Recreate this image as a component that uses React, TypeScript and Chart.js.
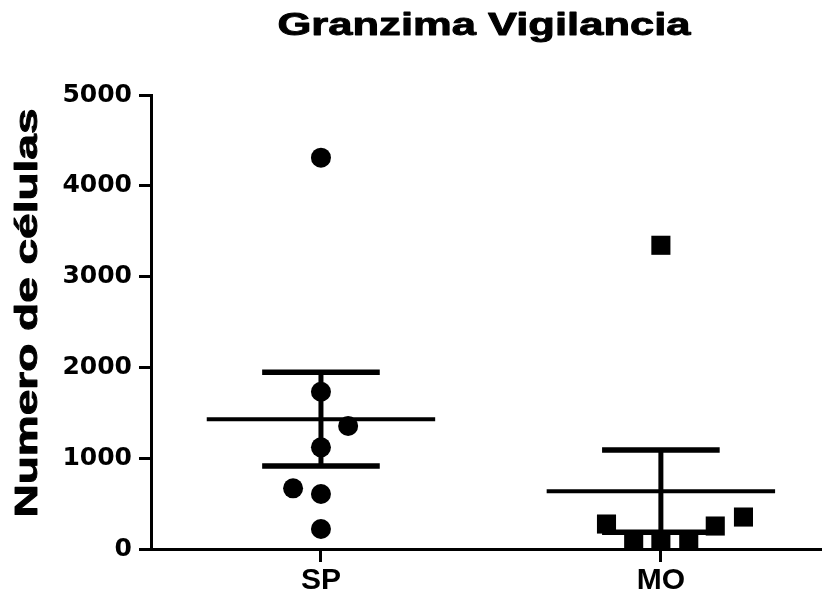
import React, { useEffect, useRef } from 'react';
import { Chart, registerables } from 'chart.js';

Chart.register(...registerables);

// Labels
const chartTitle = 'Granzima Vigilancia';
const yAxisTitle = 'Numero de células';
const groups = ['SP', 'MO'];

// Cell counts per group, with horizontal spread of the dots (in category units)
const spValues = [4310, 1732, 1355, 1120, 668, 606, 220];
const spJitter = [0, 0, 0.08, 0, -0.082, 0, 0];
const moValues = [3345, 275, 80, 75, 80, 253, 352];
const moJitter = [0, -0.16, -0.08, 0, 0.082, 0.16, 0.243];

// Y axis range
const yMin = 0;
const yMax = 5000;
const yStep = 1000;

const groupValues = [spValues, moValues];

function mean(a: number[]) {
  return a.reduce((s, v) => s + v, 0) / a.length;
}
function sem(a: number[]) {
  const m = mean(a);
  const sd = Math.sqrt(a.reduce((s, v) => s + (v - m) * (v - m), 0) / (a.length - 1));
  return sd / Math.sqrt(a.length);
}

const INK = '#000000';
const BOLD_SANS = '"Liberation Sans", Arial, Helvetica, sans-serif';

// Mean line with SEM whiskers for each group
const meanSemPlugin = {
  id: 'meanSem',
  afterDatasetsDraw(chart: any) {
    const { ctx, scales } = chart;
    const x = scales.x;
    const y = scales.y;
    const meanHalf = 0.336;
    const capHalf = 0.173;
    ctx.save();
    ctx.strokeStyle = INK;
    ctx.lineCap = 'butt';
    groupValues.forEach((vals, gi) => {
      const c = gi + 1;
      const m = mean(vals);
      const s = sem(vals);
      const cx = x.getPixelForValue(c);
      const yM = y.getPixelForValue(m);
      const yHi = y.getPixelForValue(m + s);
      const yLo = y.getPixelForValue(m - s);
      // vertical whisker
      ctx.lineWidth = 5;
      ctx.beginPath();
      ctx.moveTo(cx, yHi);
      ctx.lineTo(cx, yLo);
      ctx.stroke();
      // caps
      ctx.lineWidth = 5.5;
      ctx.beginPath();
      ctx.moveTo(x.getPixelForValue(c - capHalf), yHi);
      ctx.lineTo(x.getPixelForValue(c + capHalf), yHi);
      ctx.moveTo(x.getPixelForValue(c - capHalf), yLo);
      ctx.lineTo(x.getPixelForValue(c + capHalf), yLo);
      ctx.stroke();
      // mean
      ctx.lineWidth = 4;
      ctx.beginPath();
      ctx.moveTo(x.getPixelForValue(c - meanHalf), yM);
      ctx.lineTo(x.getPixelForValue(c + meanHalf), yM);
      ctx.stroke();
    });
    ctx.restore();
  },
};

// Draws text widened to a given length, with a thin outline for extra weight
function drawWideText(ctx: any, text: string, font: string, length: number) {
  ctx.font = font;
  const w = ctx.measureText(text).width;
  ctx.scale(length / w, 1);
  ctx.lineWidth = 0.9;
  ctx.lineJoin = 'round';
  ctx.strokeText(text, 0, 0);
  ctx.fillText(text, 0, 0);
}

// Chart title and rotated axis title
const titlesPlugin = {
  id: 'wideTitles',
  afterDraw(chart: any) {
    const { ctx, chartArea } = chart;
    ctx.save();
    ctx.fillStyle = INK;
    ctx.strokeStyle = INK;
    ctx.textAlign = 'center';
    ctx.textBaseline = 'alphabetic';

    ctx.save();
    ctx.translate(484, 35);
    drawWideText(ctx, chartTitle, `bold 31px ${BOLD_SANS}`, 413);
    ctx.restore();

    ctx.save();
    ctx.translate(37, (chartArea.top + chartArea.bottom) / 2 - 9);
    ctx.rotate(-Math.PI / 2);
    drawWideText(ctx, yAxisTitle, `bold 32px ${BOLD_SANS}`, 409);
    ctx.restore();

    ctx.restore();
  },
};

export default function App() {
  const canvasRef = useRef<HTMLCanvasElement | null>(null);

  useEffect(() => {
    const canvas = canvasRef.current;
    if (!canvas) return;
    const chart = new Chart(canvas, {
      type: 'scatter',
      data: {
        datasets: [
          {
            label: groups[0],
            data: spValues.map((v, i) => ({ x: 1 + spJitter[i], y: v })),
            pointStyle: 'circle',
            pointRadius: 10,
            pointBackgroundColor: INK,
            pointBorderWidth: 0,
            pointBorderColor: INK,
          },
          {
            label: groups[1],
            data: moValues.map((v, i) => ({ x: 2 + moJitter[i], y: v })),
            pointStyle: 'rect',
            pointRadius: 13.5,
            pointBackgroundColor: INK,
            pointBorderWidth: 0,
            pointBorderColor: INK,
          },
        ],
      },
      options: {
        responsive: false,
        animation: false,
        devicePixelRatio: 1,
        layout: { autoPadding: false, padding: { top: 95, left: 0, right: 0, bottom: 0 } },
        plugins: {
          legend: { display: false },
          tooltip: { enabled: false },
          title: { display: false },
        },
        scales: {
          x: {
            type: 'linear',
            min: 0.5,
            max: 2.474,
            afterFit: (scale: any) => {
              scale.height = 53;
              scale.paddingLeft = 0;
              scale.paddingRight = 0;
            },
            afterBuildTicks: (scale: any) => {
              scale.ticks = groups.map((_, i) => ({ value: i + 1 }));
            },
            border: { display: true, color: INK, width: 3 },
            grid: {
              drawOnChartArea: false,
              drawTicks: true,
              tickLength: 13,
              color: INK,
              lineWidth: 3,
            },
            ticks: {
              color: INK,
              padding: 1,
              font: { family: BOLD_SANS, size: 30, weight: 'bold' },
              callback: (v: any) => groups[Math.round(Number(v)) - 1] ?? '',
            },
          },
          y: {
            type: 'linear',
            min: yMin,
            max: yMax,
            afterFit: (scale: any) => {
              scale.width = 151;
            },
            border: { display: true, color: INK, width: 3 },
            grid: {
              drawOnChartArea: false,
              drawTicks: true,
              tickLength: 12,
              color: INK,
              lineWidth: 3,
            },
            ticks: {
              stepSize: yStep,
              color: INK,
              padding: 7,
              font: { family: '"DejaVu Sans", sans-serif', size: 25, weight: 'bold' },
              callback: (v: any) => String(v),
            },
          },
        },
      },
      plugins: [meanSemPlugin, titlesPlugin],
    } as any);
    return () => chart.destroy();
  }, []);

  return (
    <div style={{ position: 'fixed', left: 0, top: 0, width: 822, height: 602, background: '#ffffff' }}>
      <canvas ref={canvasRef} width={822} height={602} style={{ display: 'block' }} />
    </div>
  );
}
